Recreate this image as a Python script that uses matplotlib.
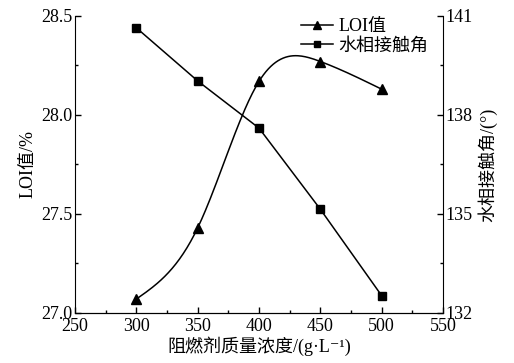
import numpy as np
import matplotlib
matplotlib.use("Agg")
import matplotlib.pyplot as plt
from matplotlib.ticker import MultipleLocator
from matplotlib.lines import Line2D

plt.rcParams['font.family'] = ['Liberation Serif', 'Noto Sans CJK SC', 'DejaVu Serif']

concentration = [300, 350, 400, 450, 500]
loi_values = [27.07, 27.43, 28.17, 28.27, 28.13]
contact_angle = [140.64, 139.03, 137.60, 135.14, 132.52]

x_ticks = [250, 300, 350, 400, 450, 500, 550]
loi_ticks = [27.0, 27.5, 28.0, 28.5]
angle_ticks = [132, 135, 138, 141]


def natural_spline(x, y, n=200):
    x = np.asarray(x, float)
    y = np.asarray(y, float)
    m = len(x)
    h = np.diff(x)
    A = np.zeros((m, m))
    b = np.zeros(m)
    A[0, 0] = 1
    A[-1, -1] = 1
    for i in range(1, m - 1):
        A[i, i - 1] = h[i - 1]
        A[i, i] = 2 * (h[i - 1] + h[i])
        A[i, i + 1] = h[i]
        b[i] = 6 * ((y[i + 1] - y[i]) / h[i] - (y[i] - y[i - 1]) / h[i - 1])
    M = np.linalg.solve(A, b)
    xs = np.linspace(x[0], x[-1], n)
    ys = np.empty_like(xs)
    for k, xv in enumerate(xs):
        i = min(np.searchsorted(x, xv, side='right') - 1, m - 2)
        t1 = x[i + 1] - xv
        t0 = xv - x[i]
        ys[k] = (M[i] * t1 ** 3 + M[i + 1] * t0 ** 3) / (6 * h[i]) \
            + (y[i] / h[i] - M[i] * h[i] / 6) * t1 \
            + (y[i + 1] / h[i] - M[i + 1] * h[i] / 6) * t0
    return xs, ys


fig = plt.figure(figsize=(5.14, 3.63), dpi=100)
ax = fig.add_axes([0.146, 0.138, 0.716, 0.818])
ax2 = ax.twinx()

xs, ys = natural_spline(concentration, loi_values)
ax.plot(xs, ys, color='black', lw=1.1)
ax.plot(concentration, loi_values, ls='none', marker='^', ms=7, color='black')

ax2.plot(concentration, contact_angle, color='black', lw=1.1, marker='s', ms=6)

ax.set_xlim(250, 550)
ax.set_ylim(27.0, 28.5)
ax2.set_ylim(132, 141)
ax.set_xticks(x_ticks)
ax.set_yticks(loi_ticks)
ax2.set_yticks(angle_ticks)
ax.set_yticklabels([f"{v:.1f}" for v in loi_ticks])
ax.xaxis.set_minor_locator(MultipleLocator(25))
ax.yaxis.set_minor_locator(MultipleLocator(0.25))
ax2.yaxis.set_minor_locator(MultipleLocator(1.5))

for a in (ax, ax2):
    a.spines['top'].set_visible(False)
    a.tick_params(which='major', direction='in', length=4, width=1, labelsize=13, pad=2)
    a.tick_params(which='minor', direction='in', length=2.5, width=1)
ax.spines['right'].set_visible(False)
ax2.spines['left'].set_visible(False)
ax.tick_params(axis='x', pad=4)

ax.set_xlabel('阻燃剂质量浓度/(g·L⁻¹)', fontsize=13, labelpad=1)
ax.set_ylabel('LOI值/%', fontsize=13, labelpad=3)
ax2.set_ylabel('水相接触角/(°)', fontsize=13, labelpad=3)

handles = [
    Line2D([], [], color='black', lw=1.1, marker='^', ms=6),
    Line2D([], [], color='black', lw=1.1, marker='s', ms=5),
]
ax.legend(handles, ['LOI值', '水相接触角'], loc='upper right',
          bbox_to_anchor=(0.99, 1.03), frameon=False, fontsize=13,
          handlelength=1.8, handletextpad=0.3, labelspacing=0.15,
          borderaxespad=0.2)

fig.savefig('out.png', dpi=100, facecolor='white')
